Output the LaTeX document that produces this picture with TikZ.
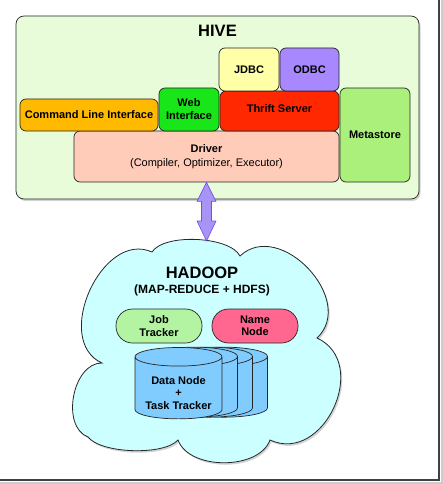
\documentclass[tikz,border=0pt]{standalone}
\usepackage{fontspec}
\setmainfont{Liberation Sans}
\usetikzlibrary{shapes.geometric,shadows}

\definecolor{hivebg}{RGB}{232,252,218}
\definecolor{jdbccol}{RGB}{255,255,168}
\definecolor{odbccol}{RGB}{168,136,255}
\definecolor{webcol}{RGB}{24,230,24}
\definecolor{thriftcol}{RGB}{255,40,0}
\definecolor{clicol}{RGB}{255,186,0}
\definecolor{metacol}{RGB}{170,240,122}
\definecolor{drivercol}{RGB}{255,204,186}
\definecolor{cloudcol}{RGB}{204,255,255}
\definecolor{jobcol}{RGB}{178,244,162}
\definecolor{namecol}{RGB}{255,102,144}
\definecolor{datacol}{RGB}{128,204,255}
\definecolor{linkfill}{RGB}{168,148,245}
\definecolor{linkdraw}{RGB}{110,80,230}

\begin{document}
\begin{tikzpicture}[x=1pt, y=1pt,
  box/.style={draw=black!85, line width=0.7pt, rounded corners=6pt, inner sep=0pt,
    align=center, font=\bfseries\fontsize{11}{13}\selectfont},
  pill/.style={box, rounded corners=16.5pt, minimum width=86pt, minimum height=34pt},
  disk/.style={cylinder, shape border rotate=90, shape aspect=0.28, draw=black!85,
    line width=0.7pt, fill=datacol, minimum width=87pt, minimum height=70pt,
    inner sep=0pt, align=center, font=\bfseries\fontsize{11}{12.5}\selectfont},
  title/.style={inner sep=0pt, font=\bfseries\fontsize{16.5}{18}\selectfont},
  softshadow/.style={drop shadow={shadow xshift=1.5pt, shadow yshift=-2pt, opacity=0.35}}]

\useasboundingbox (0,0) rectangle (443,-484);

% The frame
\draw[black!20, line width=2pt] (441.5,0) -- (441.5,-482.5) -- (0,-482.5);
\draw[black!75, line width=1.2pt] (439,0) -- (439,-480) -- (0,-480);

% The hive box
\node[box, softshadow, fill=hivebg, rounded corners=8pt, minimum width=403pt,
  minimum height=183pt] (hive) at (217.5,-107.5) {};
\node[title] (hivetitle) at (217.5,-31) {HIVE};

% The hive parts
\node[box, fill=drivercol, minimum width=265pt, minimum height=51pt,
  font=\bfseries\fontsize{11}{14.5}\selectfont] (driver) at (206.5,-156.5)
  {Driver\\{\mdseries(Compiler, Optimizer, Executor)}};
\node[box, fill=clicol, minimum width=138pt, minimum height=32pt] (cli) at (89,-115)
  {Command Line Interface};
\node[box, fill=webcol, minimum width=60pt, minimum height=43pt] (web) at (189,-109.5)
  {Web\\Interface};
\node[box, fill=thriftcol, minimum width=119pt, minimum height=40pt] (thrift) at (279.5,-111)
  {Thrift Server\rule[-4pt]{0pt}{4pt}};
\node[box, fill=jdbccol, minimum width=60pt, minimum height=43pt] (jdbc) at (249,-69.5) {JDBC};
\node[box, fill=odbccol, minimum width=59pt, minimum height=43pt] (odbc) at (309.5,-69.5) {ODBC};
\node[box, fill=metacol, minimum width=70pt, minimum height=94pt] (meta) at (375,-135) {Metastore};

% The cloud
\coordinate (c1) at (152,-252);
\coordinate (c2) at (240,-256);
\coordinate (c3) at (317,-338);
\coordinate (c4) at (270,-440);
\coordinate (c5) at (178,-440);
\coordinate (c6) at (88,-437);
\coordinate (c7) at (102,-363);
\draw[softshadow, fill=cloudcol, draw=black!85, line width=0.8pt]
  (c1) to[bend left=60, looseness=0.65] (c2)
  to[bend left=90, looseness=1.25] (c3)
  to[bend left=90, looseness=1.35] (c4)
  to[bend left=70, looseness=0.9] (c5)
  to[bend left=50, looseness=0.6] (c6)
  to[bend left=80, looseness=1] (c7)
  to[bend left=90, looseness=1.15] (c1) -- cycle;
\coordinate (cloudtop) at (206.5,-241);

% The link
\draw[draw=linkdraw, fill=linkfill, line width=0.6pt]
  (driver.south) -- ++(9.5,-19) -- ++(-4.5,0) -- ([shift={(5,20)}]cloudtop)
  -- ++(4.5,0) -- (cloudtop) -- ++(-9.5,20) -- ++(4.5,0)
  -- ([shift={(-5,-19)}]driver.south) -- ++(-4.5,0) -- cycle;

% The hadoop parts
\node[title] (hadoop) at (202,-272.5) {HADOOP};
\node[inner sep=0pt, font=\bfseries\fontsize{12}{14}\selectfont] (hadoopsub) at (202,-290.5)
  {(MAP-REDUCE + HDFS)};
\node[pill, fill=jobcol, font=\bfseries\fontsize{11}{12.5}\selectfont] (job) at (159,-326)
  {Job\\Tracker};
\node[pill, fill=namecol, font=\bfseries\fontsize{11}{12.5}\selectfont] (name) at (255,-326)
  {Name\\Node};

% The data nodes
\node[disk] (data3) at (224,-387) {\phantom{Task Tracker}};
\node[disk] (data2) at (209,-387) {\phantom{Task Tracker}};
\node[disk] (data1) at (194,-387) {\phantom{Task Tracker}};
\node[disk] (data) at (178.5,-388) {\rule{0pt}{18pt}Data Node\\+\\Task Tracker};

\end{tikzpicture}
\end{document}
